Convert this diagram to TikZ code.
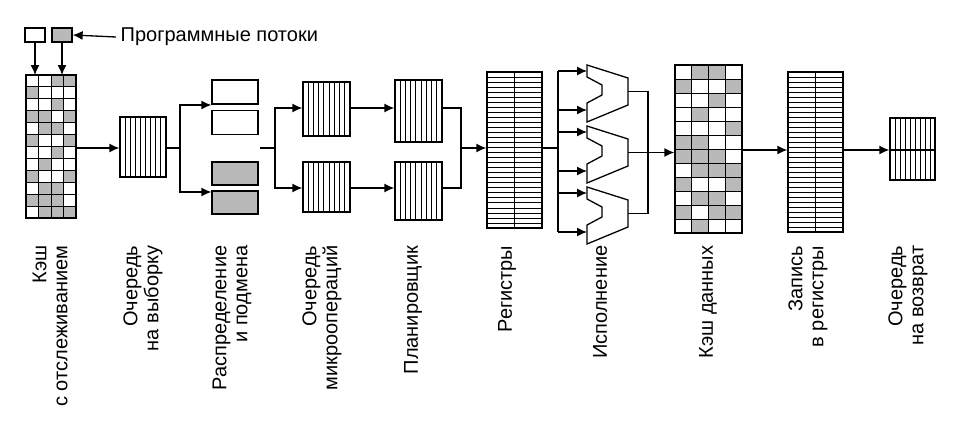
\documentclass[tikz,border=0pt]{standalone}
\usepackage{fontspec}
\setmainfont{Liberation Sans}
\usetikzlibrary{arrows.meta}
\begin{document}
\begin{tikzpicture}[x=1pt,y=-1pt,
  line width=1.3pt,
  arr/.style={-{Latex[length=10pt,width=9pt]}},
  box/.style={draw,line width=1.3pt,inner sep=0pt},
  gcell/.style={fill=gray!55},
  lbl/.style={rotate=90,anchor=east,align=right,font=\fontsize{20}{21}\selectfont,inner sep=0pt}]
\useasboundingbox (0,0) rectangle (960,428);
% threads
\node[box,minimum width=20pt,minimum height=14pt] (t1) at (35,35) {};
\node[box,fill=gray!55,minimum width=20pt,minimum height=14pt] (t2) at (62,35) {};
\node[anchor=west,font=\fontsize{20}{22}\selectfont,inner sep=0pt] (tl) at (120,37) {Программные потоки};
\draw[arr] (tl.west) ++(-4,0) coordinate (tls) -- (t2.east);
% snoop cache
\node[box,minimum width=50pt,minimum height=143pt] (sc) at (51,146.5) {};
\foreach \r/\cs in {1/{3,4},2/{1},3/{3},4/{1,2,4},5/{2,3},6/{1,4},7/{3},8/{2},9/{1,4},10/{2,3},11/{1,2,3},12/{2,3,4}}
  \foreach \c in \cs
    \fill[gcell] ({26+(\c-1)*12.5},{75+(\r-1)*143/12}) rectangle ++(12.5,{143/12});
\foreach \c in {1,2,3} \draw[line width=0.9pt] ({26+\c*12.5},75) -- ({26+\c*12.5},218);
\foreach \r in {1,...,11} \draw[line width=0.9pt] (26,{75+\r*143/12}) -- (76,{75+\r*143/12});
\draw (26,75) rectangle (76,218);
\draw[arr] (t1.south) -- (35,75);
\draw[arr] (t2.south) -- (62,75);
% fetch queue
\node[box,minimum width=46pt,minimum height=60pt] (fq) at (143,147) {};
\foreach \k in {1,...,8} \draw[line width=0.9pt] ({120+\k*46/9},117) -- ({120+\k*46/9},177);
\draw[arr] (sc.east |- 0,148) -- (fq.west |- 0,148);
% allocate
\node[box,minimum width=46pt,minimum height=24pt] (a1) at (235,92) {};
\node[box,minimum width=46pt,minimum height=24pt] (a2) at (235,122.5) {};
\node[box,fill=gray!55,minimum width=46pt,minimum height=23pt] (a3) at (235,173.5) {};
\node[box,fill=gray!55,minimum width=46pt,minimum height=23pt] (a4) at (235,202.5) {};
\draw (fq.east |- 0,148) -- (180,148);
\draw[arr] (180,148) -- (180,105) -- (a1.south west |- 0,105);
\draw[arr] (180,148) -- (180,192) -- (a4.north west |- 0,192);
% uop queues
\node[box,minimum width=47pt,minimum height=54pt] (u1) at (326.5,109) {};
\node[box,minimum width=47pt,minimum height=50pt] (u2) at (326.5,187) {};
\foreach \k in {1,...,8} {
  \draw[line width=0.9pt] ({303+\k*47/9},82) -- ({303+\k*47/9},136);
  \draw[line width=0.9pt] ({303+\k*47/9},162) -- ({303+\k*47/9},212);}
\coordinate (sp) at (275,148);
\draw (260,148) -- (sp);
\draw[arr] (sp) -- (275,108) -- (u1.west |- 0,108);
\draw[arr] (sp) -- (275,188) -- (u2.west |- 0,188);
% scheduler
\node[box,minimum width=47pt,minimum height=62pt] (s1) at (418.5,111) {};
\node[box,minimum width=47pt,minimum height=58pt] (s2) at (418.5,191) {};
\foreach \k in {1,...,8} {
  \draw[line width=0.9pt] ({395+\k*47/9},80) -- ({395+\k*47/9},142);
  \draw[line width=0.9pt] ({395+\k*47/9},162) -- ({395+\k*47/9},220);}
\draw[arr] (u1.east |- 0,108) -- (s1.west |- 0,108);
\draw[arr] (u2.east |- 0,188) -- (s2.west |- 0,188);
% registers
\node[box,minimum width=55pt,minimum height=156pt] (rg) at (514.5,150) {};
\foreach \k in {1,...,30} \draw[line width=0.7pt] (487,{72+\k*156/31}) -- (542,{72+\k*156/31});
\draw (514.5,72) -- (514.5,228);
\draw (s1.east |- 0,108) -- (461,108) -- (461,188) -- (s2.east |- 0,188);
\draw[arr] (461,148) -- (rg.west |- 0,148);
% ALUs
\foreach \n/\o in {1/0,2/61,3/122} {
  \draw[fill=white] (587,65+\o) -- (628,78+\o) -- (628,105+\o) -- (587,122+\o) -- (587,103+\o) -- (602,95+\o) -- (602,85+\o) -- (587,77+\o) -- cycle;
  \coordinate (alu\n a) at (587,{71+\o});
  \coordinate (alu\n b) at (587,{110+\o});
  \coordinate (alu\n o) at (628,{91.5+\o});
}
\coordinate (ex) at (558,148);
\draw (rg.east |- 0,148) -- (ex);
\draw (558,71) -- (558,232);
\foreach \n in {1,2,3} {
  \draw[arr] (558,0 |- alu\n a) -- (alu\n a);
  \draw[arr] (558,0 |- alu\n b) -- (alu\n b);}
\draw (alu1o) -- (648,0 |- alu1o) -- (648,0 |- alu3o) -- (alu3o);
% data cache
\node[box,minimum width=67pt,minimum height=168pt] (dc) at (708.5,149) {};
\foreach \r/\cs in {1/{2,3},2/{1,4},3/{3},4/{2},5/{4},6/{1,2},7/{1,2,3},8/{2,3,4},9/{1,4},10/{2,3},11/{1,3,4},12/{2}}
  \foreach \c in \cs
    \fill[gcell] ({675+(\c-1)*16.75},{65+(\r-1)*14}) rectangle ++(16.75,14);
\foreach \c in {1,2,3} \draw[line width=0.9pt] ({675+\c*16.75},65) -- ({675+\c*16.75},233);
\foreach \r in {1,...,11} \draw[line width=0.9pt] (675,{65+\r*14}) -- (742,{65+\r*14});
\draw (675,65) rectangle (742,233);
\draw[arr] (alu2o) -- (dc.west |- alu2o);
% writeback
\node[box,minimum width=55pt,minimum height=160pt] (wb) at (815.5,152) {};
\foreach \k in {1,...,31} \draw[line width=0.7pt] (788,{72+\k*160/32}) -- (843,{72+\k*160/32});
\draw (815.5,72) -- (815.5,232);
\draw[arr] (dc.east |- 0,150) -- (wb.west |- 0,150);
% return queue
\node[box,minimum width=45pt,minimum height=62pt] (rq) at (912.5,149) {};
\foreach \k in {1,...,8} \draw[line width=0.9pt] ({890+\k*45/9},118) -- ({890+\k*45/9},180);
\draw (890,150) -- (935,150);
\draw[arr] (wb.east |- 0,150) -- (rq.west |- 0,150);
% labels
\node[lbl] (l1) at (50,245) {Кэш\\с отслеживанием};
\node[lbl] (l2) at (143,245) {Очередь\\на выборку};
\node[lbl] (l3) at (232,245) {Распределение\\и подмена};
\node[lbl] (l4) at (322,245) {Очередь\\микроопераций};
\node[lbl] (l5) at (413,245) {Планировщик};
\node[lbl] (l6) at (507,245) {Регистры};
\node[lbl] (l7) at (600,245) {Исполнение};
\node[lbl] (l8) at (708,245) {Кэш данных};
\node[lbl] (l9) at (808,245) {Запись\\в регистры};
\node[lbl] (l10) at (908,245) {Очередь\\на возврат};
\end{tikzpicture}
\end{document}
